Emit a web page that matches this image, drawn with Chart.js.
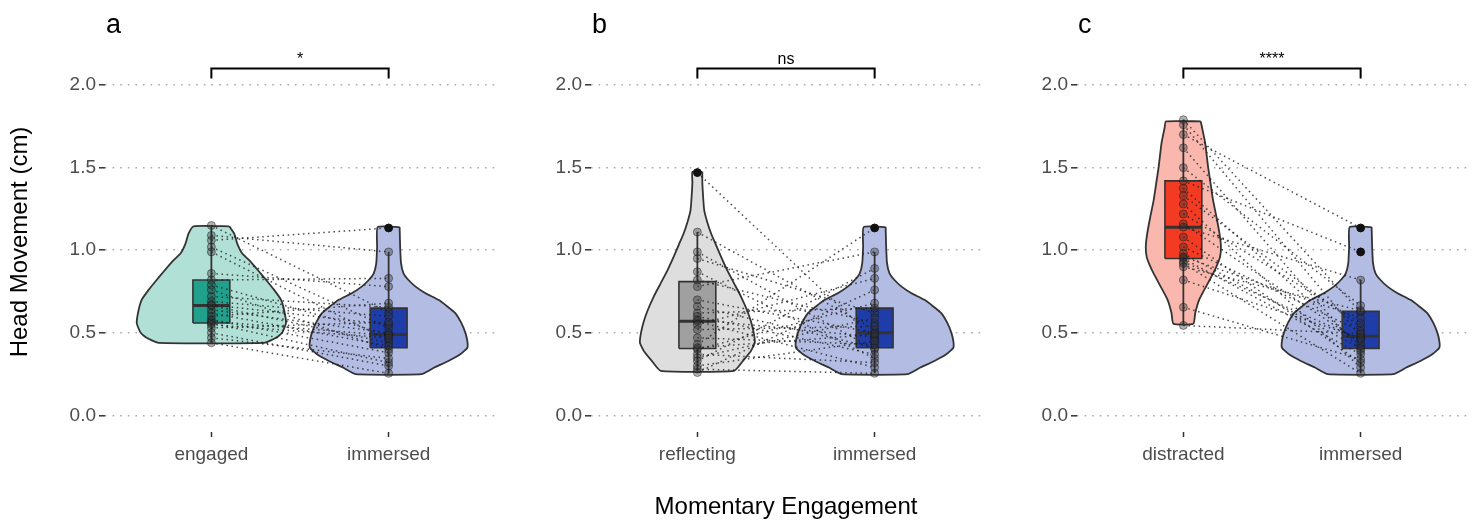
<!DOCTYPE html>
<html lang="en">
<head>
<meta charset="utf-8">
<title>Head movement by momentary engagement</title>
<script src="https://cdn.jsdelivr.net/npm/chart.js@4.4.1/dist/chart.umd.min.js"></script>
<style>
  body { margin: 0; background: #fff; }
  #wrap { position: relative; width: 1477px; height: 527px; }
  #wrap canvas { position: absolute; top: 0; }
</style>
</head>
<body>
<div id="wrap">
  <canvas id="panelA" width="500" height="527" style="left:0px"></canvas>
  <canvas id="panelB" width="500" height="527" style="left:486px"></canvas>
  <canvas id="panelC" width="500" height="527" style="left:972px"></canvas>
</div>

<script>
// ---- data ----
const yTicks = [0, 0.5, 1, 1.5, 2];

// paired values per participant (same index = same participant)
const engagedA   = [1.15, 1.09, 1.06, 1.02, 0.99, 0.86, 0.82, 0.79, 0.76, 0.72, 0.69, 0.67, 0.665, 0.64, 0.62, 0.60, 0.58, 0.57, 0.56, 0.55, 0.53, 0.50, 0.47, 0.44];
const immersedA  = [0.625, 0.99, 1.135, 0.53, 0.455, 0.78, 0.83, 0.49, 0.40, 0.655, 0.60, 0.55, 0.44, 0.50, 0.42, 0.68, 0.38, 0.485, 0.32, 0.47, 0.565, 0.30, 0.345, 0.255];

const reflectingB = [1.47, 1.11, 0.99, 0.95, 0.87, 0.82, 0.78, 0.70, 0.66, 0.62, 0.60, 0.58, 0.57, 0.55, 0.52, 0.47, 0.43, 0.41, 0.40, 0.37, 0.35, 0.33, 0.30, 0.28, 0.26];
const immersedB   = [0.46, 0.52, 0.40, 0.62, 0.345, 0.56, 0.99, 0.50, 0.41, 0.65, 0.37, 0.475, 0.29, 0.83, 0.54, 0.43, 1.135, 0.49, 0.68, 0.32, 0.59, 0.89, 0.45, 0.255, 0.76];

const distractedC = [1.79, 1.76, 1.70, 1.62, 1.50, 1.42, 1.375, 1.33, 1.28, 1.22, 1.16, 1.14, 1.08, 1.02, 0.98, 0.96, 0.95, 0.93, 0.92, 0.90, 0.82, 0.655, 0.545];
const immersedC   = [0.625, 0.48, 1.135, 0.39, 0.665, 0.99, 0.42, 0.535, 0.29, 0.56, 0.44, 0.82, 0.32, 0.51, 0.405, 0.59, 0.37, 0.46, 0.255, 0.635, 0.47, 0.34, 0.495];

// box stats: [lower whisker, q1, median, q3, upper whisker]
const boxEngaged    = [0.44, 0.56, 0.665, 0.82, 1.15];
const boxImmersedA  = [0.255, 0.41, 0.49, 0.65, 0.99];
const boxReflecting = [0.26, 0.405, 0.57, 0.81, 1.11];
const boxImmersedB  = [0.255, 0.41, 0.50, 0.65, 0.99];
const boxDistracted = [0.545, 0.95, 1.14, 1.42, 1.79];
const boxImmersedC  = [0.255, 0.405, 0.48, 0.63, 0.82];

const outEngaged = [];
const outImmersedA = [1.135];
const outReflecting = [1.47];
const outImmersedB = [1.135];
const outDistracted = [];
const outImmersedC = [0.99, 1.135];

// violin outlines: levels (top to bottom) and half widths in category units
const violinEngagedY = [1.145, 1.10, 1.04, 0.98, 0.94, 0.87, 0.82, 0.76, 0.70, 0.64, 0.56, 0.50, 0.47, 0.44];
const violinEngagedW = [0.101, 0.129, 0.146, 0.174, 0.213, 0.27, 0.309, 0.354, 0.393, 0.41, 0.421, 0.399, 0.365, 0.298];
const violinImmersedY = [1.14, 1.02, 0.92, 0.86, 0.82, 0.78, 0.74, 0.70, 0.66, 0.62, 0.56, 0.50, 0.45, 0.41, 0.37, 0.33, 0.29, 0.25];
const violinImmersedW = [0.062, 0.065, 0.070, 0.084, 0.112, 0.152, 0.208, 0.281, 0.331, 0.376, 0.41, 0.433, 0.444, 0.444, 0.404, 0.337, 0.258, 0.185];
const violinReflectingY = [1.475, 1.41, 1.30, 1.24, 1.17, 1.10, 1.03, 0.96, 0.88, 0.80, 0.72, 0.64, 0.57, 0.50, 0.44, 0.39, 0.33, 0.27];
const violinReflectingW = [0.028, 0.028, 0.034, 0.039, 0.056, 0.078, 0.106, 0.134, 0.168, 0.207, 0.246, 0.279, 0.302, 0.318, 0.324, 0.302, 0.257, 0.207];
const violinDistractedY = [1.78, 1.74, 1.65, 1.50, 1.40, 1.30, 1.20, 1.10, 1.02, 0.96, 0.91, 0.86, 0.78, 0.70, 0.62, 0.555];
const violinDistractedW = [0.098, 0.106, 0.123, 0.14, 0.154, 0.168, 0.187, 0.204, 0.212, 0.207, 0.19, 0.168, 0.128, 0.089, 0.067, 0.056];

const violinColors = { engaged: '#b1e0d6', reflecting: '#dedede', distracted: '#f9b7ae', immersed: '#b3bde3' };
const boxColors = { engaged: '#21a08c', reflecting: '#a0a0a0', distracted: '#f33b23', immersed: '#1f3da8' };

const panels = [
  { id: 'panelA', tag: 'a', sig: '*', cats: ['engaged', 'immersed'],
    values: [engagedA, immersedA], boxes: [boxEngaged, boxImmersedA], outliers: [outEngaged, outImmersedA],
    violins: [[violinEngagedY, violinEngagedW], [violinImmersedY, violinImmersedW]] },
  { id: 'panelB', tag: 'b', sig: 'ns', cats: ['reflecting', 'immersed'],
    values: [reflectingB, immersedB], boxes: [boxReflecting, boxImmersedB], outliers: [outReflecting, outImmersedB],
    violins: [[violinReflectingY, violinReflectingW], [violinImmersedY, violinImmersedW]] },
  { id: 'panelC', tag: 'c', sig: '****', cats: ['distracted', 'immersed'],
    values: [distractedC, immersedC], boxes: [boxDistracted, boxImmersedC], outliers: [outDistracted, outImmersedC],
    violins: [[violinDistractedY, violinDistractedW], [violinImmersedY, violinImmersedW]] }
];

const FONT = '"Liberation Sans", Arial, sans-serif';
Chart.defaults.font.family = FONT;
const BOX_HALF = 0.104;

function violinShape(x0, ys, ws) {
  const right = ys.map((y, i) => ({ x: x0 + ws[i], y: y }));
  const left = ys.map((y, i) => ({ x: x0 - ws[i], y: y })).reverse();
  return right.concat(left, [right[0]]);
}

function line(data, opts) {
  return Object.assign({ data: data, showLine: true, pointRadius: 0, borderColor: '#333', borderWidth: 1.6, fill: false, tension: 0 }, opts);
}

// panel letter and significance label
const annotate = {
  id: 'annotate',
  afterDatasetsDraw(chart, args, opts) {
    const { ctx, chartArea, scales } = chart;
    ctx.save();
    ctx.fillStyle = '#000';
    ctx.textBaseline = 'alphabetic';
    ctx.font = '27px ' + FONT;
    ctx.fillText(opts.tag, chartArea.left + 1, 33);
    ctx.font = '16px ' + FONT;
    ctx.textAlign = 'center';
    ctx.fillText(opts.sig, scales.x.getPixelForValue(1.5), scales.y.getPixelForValue(2.10) - 5);
    ctx.restore();
  }
};

panels.forEach((p, pi) => {
  const ds = [];
  // violins
  p.cats.forEach((c, ci) => {
    const [vy, vw] = p.violins[ci];
    ds.push(line(violinShape(ci + 1, vy, vw), { backgroundColor: violinColors[c], fill: 'shape', borderWidth: 1.8, tension: 0.15 }));
  });
  // boxes
  p.cats.forEach((c, ci) => {
    const x = ci + 1, b = p.boxes[ci];
    ds.push(line([{ x: x, y: b[0] }, { x: x, y: b[4] }], { borderWidth: 1.8 }));
    ds.push(line([{ x: x - BOX_HALF, y: b[1] }, { x: x + BOX_HALF, y: b[1] }, { x: x + BOX_HALF, y: b[3] }, { x: x - BOX_HALF, y: b[3] }, { x: x - BOX_HALF, y: b[1] }],
      { backgroundColor: boxColors[c], fill: 'shape', borderWidth: 1.6 }));
    ds.push(line([{ x: x - BOX_HALF, y: b[2] }, { x: x + BOX_HALF, y: b[2] }], { borderWidth: 3 }));
  });
  // paired lines
  p.values[0].forEach((v, i) => {
    ds.push(line([{ x: 1, y: v }, { x: 2, y: p.values[1][i] }], { borderColor: 'rgba(30,30,30,0.8)', borderWidth: 1.5, borderDash: [1.5, 3.6] }));
  });
  // participant points
  p.values.forEach((vals, ci) => {
    ds.push({ data: vals.map(v => ({ x: ci + 1, y: v })), pointRadius: 4, pointBackgroundColor: 'rgba(50,50,50,0.38)', pointBorderColor: 'rgba(20,20,20,0.45)', pointBorderWidth: 1 });
  });
  // outliers
  p.outliers.forEach((vals, ci) => {
    ds.push({ data: vals.map(v => ({ x: ci + 1, y: v })), pointRadius: 3.8, pointBackgroundColor: '#111', pointBorderColor: '#111' });
  });
  // significance bracket
  ds.push(line([{ x: 1, y: 2.04 }, { x: 1, y: 2.10 }, { x: 2, y: 2.10 }, { x: 2, y: 2.04 }], { borderColor: '#000', borderWidth: 2 }));
  ds.forEach(d => { d.clip = false; });
  ds.reverse();

  new Chart(document.getElementById(p.id), {
    type: 'scatter',
    data: { datasets: ds },
    options: {
      responsive: false,
      animation: false,
      events: [],
      layout: { padding: { top: 52, right: 3, left: 0, bottom: 0 } },
      plugins: { legend: { display: false }, tooltip: { enabled: false }, annotate: { tag: p.tag, sig: p.sig } },
      scales: {
        x: {
          type: 'linear', min: 0.4, max: 2.6,
          afterBuildTicks: s => { s.ticks = [{ value: 1 }, { value: 2 }]; },
          afterFit: s => { s.height = 95; },
          ticks: { callback: v => p.cats[v - 1], color: '#4d4d4d', font: { size: 19 }, padding: 6, maxRotation: 0 },
          grid: { drawOnChartArea: false, tickColor: '#333', tickLength: 5, tickWidth: 1.5 },
          border: { display: false },
          title: { display: pi === 1, text: 'Momentary Engagement', color: '#000', font: { size: 24 }, padding: { top: 0, bottom: 5 } }
        },
        y: {
          min: -0.1, max: 2.2,
          afterBuildTicks: s => { s.ticks = yTicks.map(v => ({ value: v })); },
          afterFit: s => { s.width = 105; },
          ticks: { callback: v => v.toFixed(1), color: '#4d4d4d', font: { size: 19 }, padding: 3 },
          grid: { color: '#aaaaaa', lineWidth: 1.6, tickColor: '#333', tickLength: 6, tickWidth: 1.5, tickBorderDash: [] },
          border: { display: false, dash: [1.6, 6] },
          title: { display: pi === 0, text: 'Head Movement (cm)', color: '#000', font: { size: 24 }, padding: { top: 6 } }
        }
      }
    },
    plugins: [annotate]
  });
});
</script>
</body>
</html>
